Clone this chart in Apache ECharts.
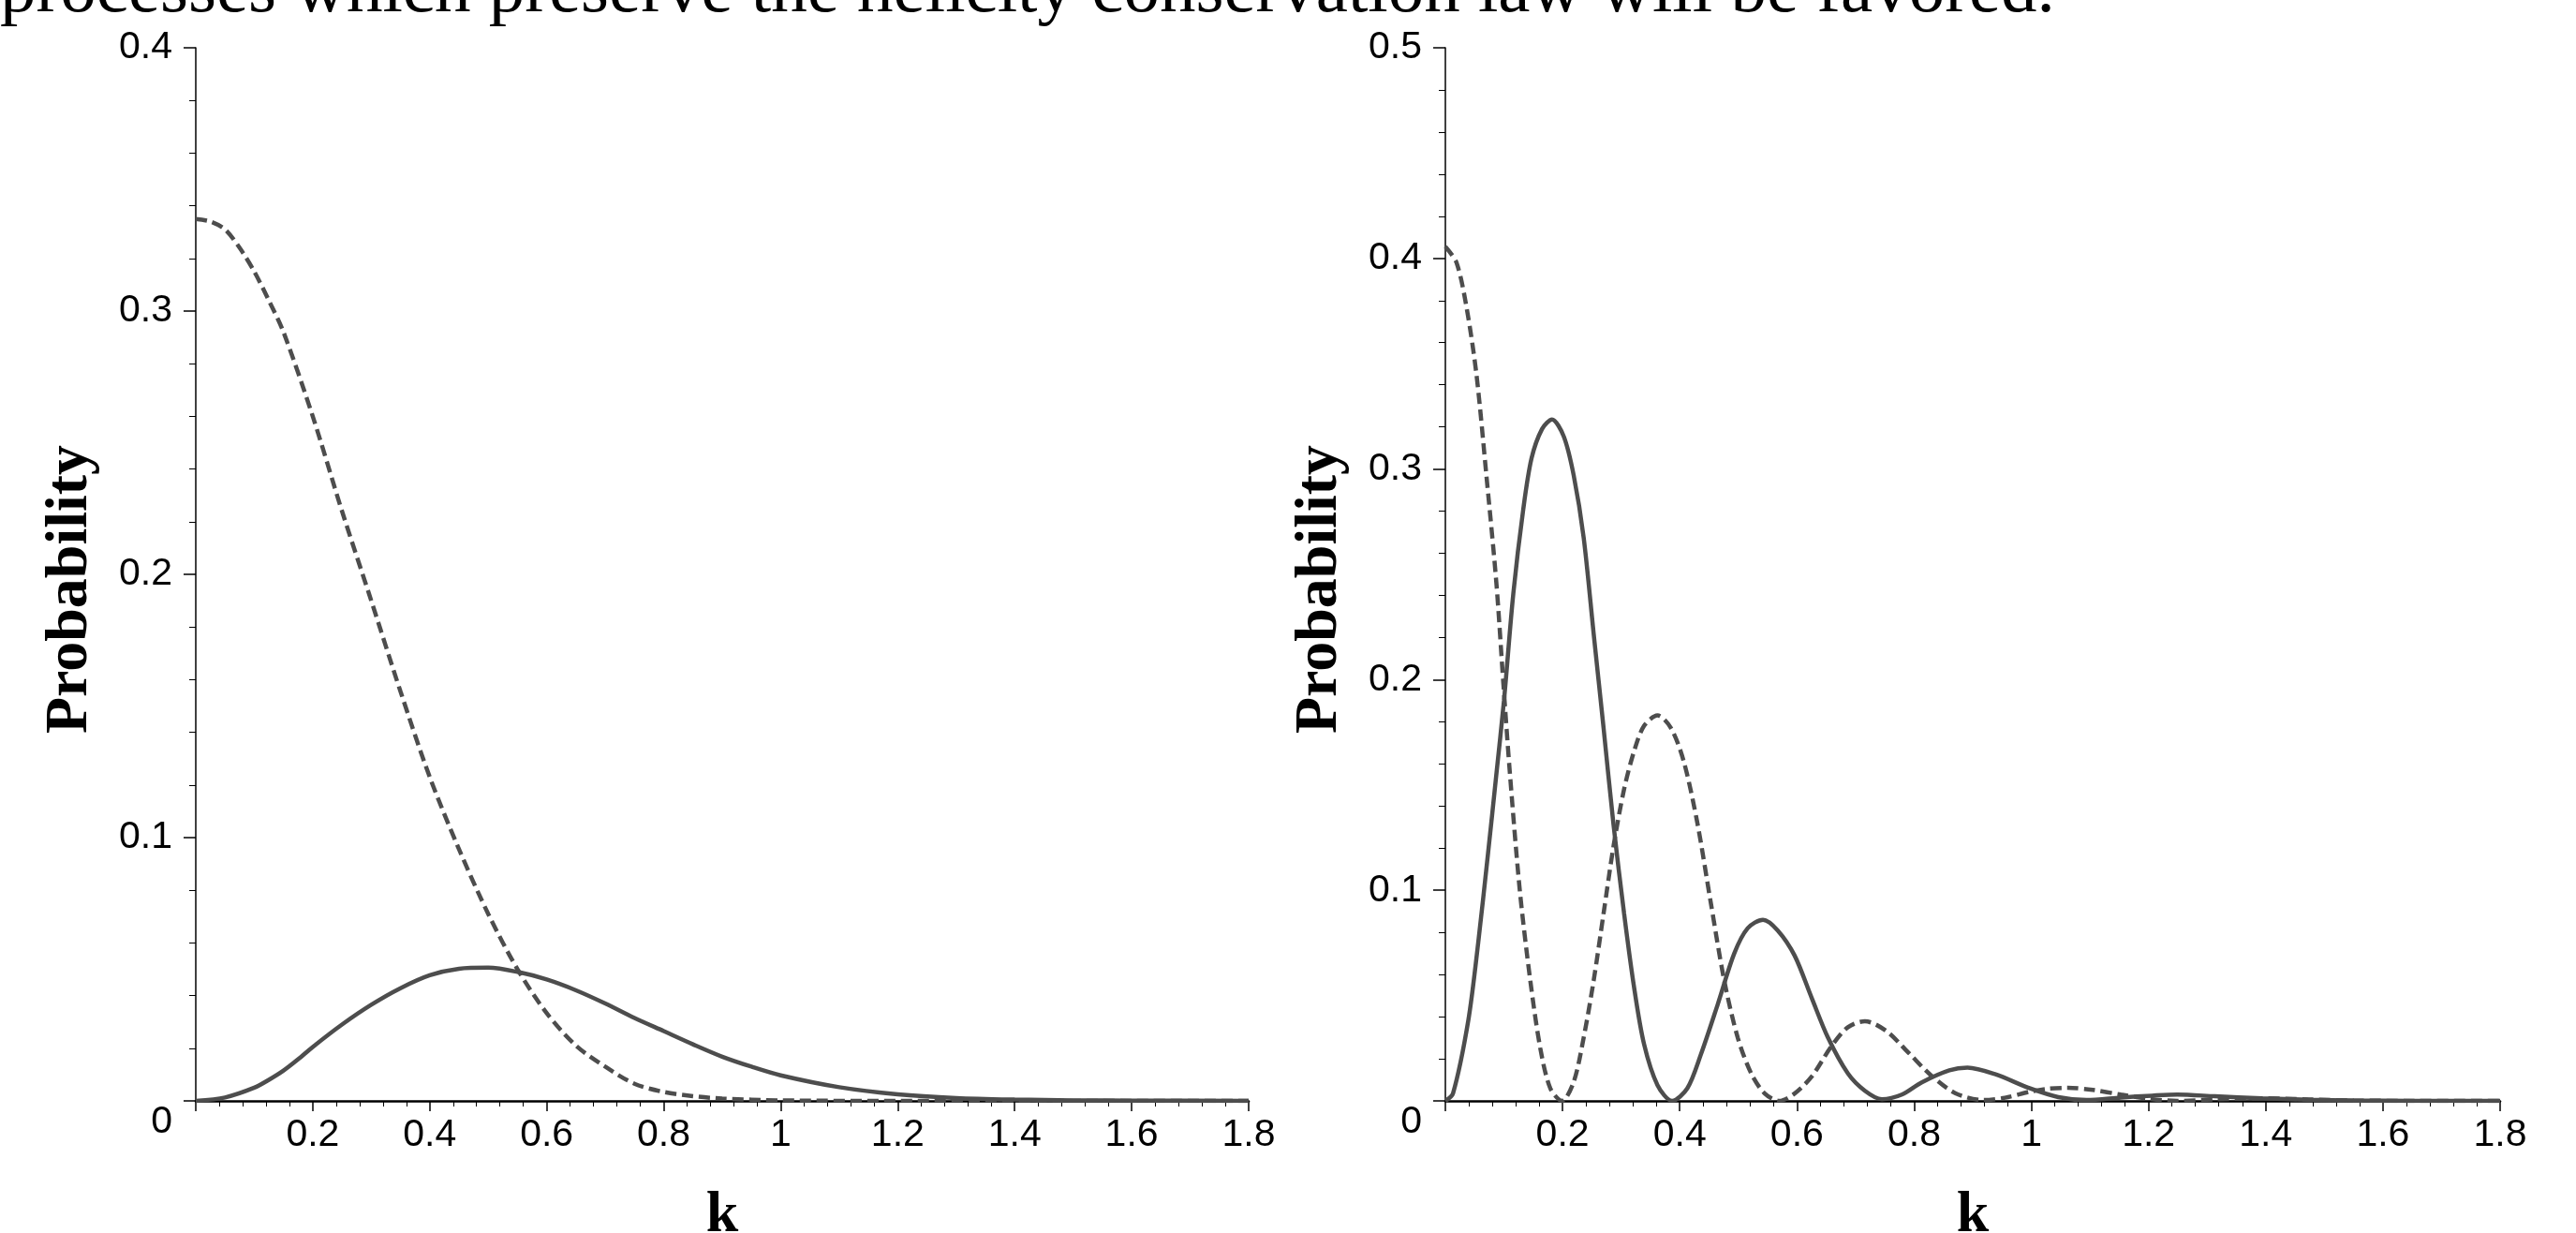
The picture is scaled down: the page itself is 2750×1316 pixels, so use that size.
<!DOCTYPE html>
<html>
<head>
<meta charset="utf-8">
<script src="https://cdn.jsdelivr.net/npm/echarts@6/dist/echarts.min.js"></script>
<style>
html,body{margin:0;padding:0;background:#fff;}
#chart{width:2750px;height:1316px;}
</style>
</head>
<body>
<div id="chart"></div>
<script>
// ---- data ----
var headerText = 'processes which preserve the helicity conservation law will be favored.';
var xAxisTitle = 'k';
var yAxisTitle = 'Probability';
var xTicks = [0.2, 0.4, 0.6, 0.8, 1, 1.2, 1.4, 1.6, 1.8];
var leftYMax = 0.4;
var rightYMax = 0.5;

// left panel, dashed curve
var kLeftDashed = [0, 0.025, 0.05, 0.075, 0.1, 0.125, 0.15, 0.2, 0.25, 0.3, 0.35, 0.4, 0.45, 0.5, 0.55, 0.6, 0.65, 0.7, 0.75, 0.8, 0.85, 0.9, 1.0, 1.2, 1.4, 1.6, 1.8];
var pLeftDashed = [0.335, 0.334, 0.331, 0.324, 0.315, 0.304, 0.292, 0.260, 0.224, 0.190, 0.1555, 0.123, 0.0956, 0.071, 0.050, 0.0333, 0.021, 0.013, 0.0065, 0.0034, 0.0018, 0.0009, 0.0002, 0, 0, 0, 0];

// left panel, solid curve
var kLeftSolid = [0, 0.05, 0.1, 0.125, 0.15, 0.175, 0.2, 0.25, 0.3, 0.35, 0.4, 0.45, 0.5, 0.55, 0.6, 0.65, 0.7, 0.75, 0.8, 0.85, 0.9, 0.95, 1.0, 1.1, 1.2, 1.3, 1.4, 1.5, 1.6, 1.8];
var pLeftSolid = [0, 0.0013, 0.005, 0.008, 0.0115, 0.0158, 0.0205, 0.029, 0.0365, 0.0428, 0.0477, 0.0502, 0.0506, 0.049, 0.0461, 0.042, 0.037, 0.0315, 0.0265, 0.0215, 0.0168, 0.013, 0.0097, 0.0052, 0.0025, 0.0011, 0.0005, 0.0002, 0.0001, 0];

// right panel, dashed curve
var kRightDashed = [0, 0.019, 0.036, 0.053, 0.07, 0.087, 0.099, 0.11, 0.127, 0.145, 0.162, 0.179, 0.199, 0.219, 0.236, 0.253, 0.27, 0.287, 0.305, 0.322, 0.339, 0.362, 0.385, 0.407, 0.43, 0.453, 0.476, 0.499, 0.522, 0.545, 0.57, 0.596, 0.625, 0.659, 0.687, 0.716, 0.752, 0.79, 0.827, 0.87, 0.918, 0.955, 0.998, 1.03, 1.062, 1.105, 1.153, 1.201, 1.249, 1.313, 1.393, 1.473, 1.55, 1.65, 1.8];
var pRightDashed = [0.4056, 0.398, 0.377, 0.345, 0.297, 0.246, 0.198, 0.156, 0.100, 0.057, 0.025, 0.006, 0, 0.009, 0.030, 0.057, 0.089, 0.121, 0.148, 0.166, 0.178, 0.183, 0.177, 0.161, 0.132, 0.094, 0.057, 0.030, 0.013, 0.0035, 0, 0.0035, 0.0115, 0.026, 0.035, 0.0378, 0.0333, 0.023, 0.0126, 0.0037, 0.0004, 0.0015, 0.0044, 0.0058, 0.0062, 0.0052, 0.003, 0.001, 0, 0.0007, 0.0012, 0.0007, 0.0002, 0, 0];

// right panel, solid curve
var kRightSolid = [0, 0.013, 0.039, 0.056, 0.073, 0.087, 0.1, 0.116, 0.133, 0.147, 0.165, 0.182, 0.202, 0.219, 0.236, 0.253, 0.27, 0.287, 0.305, 0.322, 0.339, 0.362, 0.387, 0.413, 0.436, 0.465, 0.493, 0.516, 0.542, 0.567, 0.596, 0.625, 0.653, 0.687, 0.716, 0.745, 0.779, 0.813, 0.86, 0.891, 0.939, 0.998, 1.046, 1.094, 1.153, 1.206, 1.249, 1.313, 1.393, 1.473, 1.55, 1.65, 1.8];
var pRightSolid = [0, 0.0035, 0.038, 0.075, 0.118, 0.155, 0.190, 0.241, 0.281, 0.305, 0.319, 0.3235, 0.3155, 0.297, 0.2675, 0.222, 0.177, 0.131, 0.089, 0.054, 0.027, 0.0075, 0, 0.006, 0.022, 0.046, 0.070, 0.082, 0.086, 0.081, 0.069, 0.049, 0.030, 0.013, 0.0048, 0.0008, 0.003, 0.0088, 0.0145, 0.0158, 0.0126, 0.0059, 0.0018, 0.0004, 0.0016, 0.0025, 0.003, 0.0022, 0.0012, 0.0006, 0.0002, 0, 0];

function pairs(ks, ps) { return ks.map(function (k, i) { return [k, ps[i]]; }); }

var curveColor = '#4d4d4d';
var labelFont = 'Liberation Sans, Arial, Helvetica, sans-serif';
var serifFont = 'Liberation Serif, Times New Roman, serif';

function xAxisCfg(gridIndex) {
  return {
    type: 'value', gridIndex: gridIndex, min: 0, max: 1.8, interval: 0.2,
    name: xAxisTitle, nameLocation: 'middle', nameGap: 92,
    nameTextStyle: { fontFamily: serifFont, fontWeight: 'bold', fontSize: 62, color: '#000' },
    axisLine: { show: true, lineStyle: { color: '#000', width: 2.5 } },
    axisTick: { show: true, inside: false, length: 11, lineStyle: { color: '#000', width: 1.5 } },
    minorTick: { show: true, splitNumber: 5, length: 6, lineStyle: { color: '#000', width: 1 } },
    splitLine: { show: false },
    axisLabel: {
      margin: 16, fontFamily: labelFont, fontSize: 41, color: '#000',
      formatter: function (v) { return v === 0 ? '' : String(+v.toFixed(1)); }
    }
  };
}
function yAxisCfg(gridIndex, maxV) {
  return {
    type: 'value', gridIndex: gridIndex, min: 0, max: maxV, interval: 0.1,
    name: yAxisTitle, nameLocation: 'middle', nameRotate: 90, nameGap: 102,
    nameTextStyle: { fontFamily: serifFont, fontWeight: 'bold', fontSize: 64, color: '#000', padding: [0, 32, 0, 0] },
    axisLine: { show: true, lineStyle: { color: '#000', width: 1.5 } },
    axisTick: { show: true, inside: false, length: 13, lineStyle: { color: '#000', width: 1.5 } },
    minorTick: { show: true, splitNumber: 5, length: 7, lineStyle: { color: '#000', width: 1 } },
    splitLine: { show: false },
    axisLabel: {
      margin: 25, fontFamily: labelFont, fontSize: 41, color: '#000',
      formatter: function (v) { return v === 0 ? '{z|0}' : String(+v.toFixed(1)); },
      rich: { z: { fontFamily: labelFont, fontSize: 41, color: '#000', padding: [46, 0, 0, 0] } }
    }
  };
}
function line(name, xi, data, dashed) {
  return {
    name: name, type: 'line', xAxisIndex: xi, yAxisIndex: xi, data: data,
    showSymbol: false, symbol: 'none', smooth: 0.3, clip: true,
    lineStyle: { color: curveColor, width: 4.5, type: dashed ? [12, 6] : 'solid' },
    emphasis: { disabled: true }
  };
}

var chart = echarts.init(document.getElementById('chart'), null, { renderer: 'canvas' });
chart.setOption({
  animation: false,
  backgroundColor: '#fff',
  title: {
    text: headerText, left: 0, top: -47, padding: 0,
    textStyle: { fontFamily: serifFont, fontWeight: 'normal', fontSize: 77, color: '#000' }
  },
  grid: [
    { left: 209, right: 1417, top: 51, bottom: 141, containLabel: false, outerBoundsMode: 'none' },
    { left: 1543, right: 81, top: 51, bottom: 141, containLabel: false, outerBoundsMode: 'none' }
  ],
  xAxis: [xAxisCfg(0), xAxisCfg(1)],
  yAxis: [yAxisCfg(0, leftYMax), yAxisCfg(1, rightYMax)],
  series: [
    line('left dashed', 0, pairs(kLeftDashed, pLeftDashed), true),
    line('left solid', 0, pairs(kLeftSolid, pLeftSolid), false),
    line('right dashed', 1, pairs(kRightDashed, pRightDashed), true),
    line('right solid', 1, pairs(kRightSolid, pRightSolid), false)
  ]
});
</script>
</body>
</html>
